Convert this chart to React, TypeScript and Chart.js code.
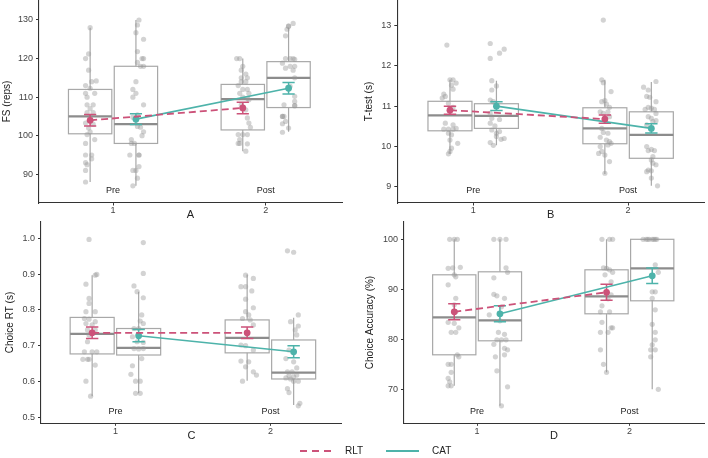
import React, { useEffect, useRef } from 'react';
import { Chart, registerables } from 'chart.js';
Chart.register(...registerables);

// ---------- shared categories ----------
const groupNames = ['RLT', 'CAT'];
const timeLabels = ['Pre', 'Post'];
const timeValues = [1, 2];
const xTickValues = [1, 2];

// every per-group array is ordered: RLT Pre, CAT Pre, RLT Post, CAT Post
// box stats: [lower whisker, Q1, median, Q3, upper whisker]

// ---------- A : FS (reps) ----------
const fsTicks = [90, 100, 110, 120, 130];
const fsBoxes = [
  [88, 100.5, 105, 112, 128],
  [87, 98, 103, 118, 130],
  [96, 101.5, 109.5, 113.3, 120],
  [101, 107.3, 115, 119.2, 128],
];
const fsMeans = [104.0, 104.3, 107.2, 112.3];
const fsErrors = [1.5, 1.4, 1.5, 1.5];
const fsPoints = [
  [[0, 128], [-0.03, 120], [-0.01, 121.2], [-0.01, 117], [0.01, 114], [0.04, 114.2], [-0.03, 113], [0, 112.3], [-0.03, 111], [0.03, 111], [-0.02, 110], [-0.02, 108], [0.02, 108], [0, 107], [-0.02, 106], [0.02, 106], [0, 105], [-0.03, 103.3], [0.02, 103], [-0.01, 102], [0, 101], [-0.02, 100.3], [0.03, 99], [-0.03, 98], [-0.03, 95], [0.01, 95], [0.01, 94], [-0.03, 93], [-0.02, 92.5], [-0.03, 91], [-0.03, 88]],
  [[0.02, 130], [0.01, 128.7], [0, 126.7], [0.05, 125], [0.01, 121.8], [0.04, 120], [0.05, 120], [0.01, 119], [0.03, 118], [0.05, 118], [0, 114], [-0.02, 112], [0, 111], [-0.02, 110], [0.05, 108], [0.01, 105.4], [-0.02, 104.8], [0.01, 102.4], [0.03, 102.2], [0.05, 101], [0.04, 100], [-0.03, 99], [-0.03, 98], [-0.01, 98], [-0.04, 95], [0.02, 95], [0.02, 95], [0.02, 92], [-0.02, 91], [0, 91], [0.01, 89], [-0.02, 87]],
  [[-0.04, 120], [-0.02, 120], [0, 118], [-0.01, 117], [0.02, 116], [-0.01, 115], [0.03, 115], [-0.01, 114], [0.02, 114], [-0.03, 113], [0, 112], [0.03, 112], [-0.02, 111], [0.04, 111], [0, 110], [0.03, 109.7], [0.04, 109.3], [-0.01, 108], [0.02, 106.7], [0.03, 104.6], [0.04, 103.3], [0.05, 102.2], [-0.03, 100.3], [0, 100.3], [0.03, 100.3], [-0.02, 99], [-0.03, 98], [-0.02, 98], [0.03, 97.9], [0.02, 96]],
  [[0.03, 129.1], [0, 128.4], [0, 128.4], [-0.01, 127.6], [-0.02, 125.9], [-0.02, 120], [0.01, 120], [0.03, 120], [0.04, 119.8], [-0.04, 118.8], [0.01, 118], [0.04, 118], [-0.02, 117.5], [0.03, 117], [0.04, 115], [0.01, 112.8], [0.04, 110.2], [0.04, 108.9], [-0.03, 108], [0.04, 107.8], [0.04, 107.8], [-0.03, 105], [-0.04, 105], [-0.04, 105], [-0.02, 103.7], [-0.04, 103.1], [0, 102], [-0.04, 100.9]],
];

// ---------- B : T-test (s) ----------
const ttTicks = [9, 10, 11, 12, 13];
const ttBoxes = [
  [9.82, 10.39, 10.77, 11.12, 11.65],
  [10.03, 10.45, 10.76, 11.06, 11.63],
  [9.32, 10.07, 10.45, 10.96, 11.65],
  [9.03, 9.71, 10.29, 10.86, 11.6],
];
const ttMeans = [10.9, 11.0, 10.68, 10.45];
const ttErrors = [0.1, 0.11, 0.1, 0.115];
const ttPoints = [
  [[-0.02, 12.51], [0, 11.65], [0.02, 11.65], [0.04, 11.57], [0.02, 11.42], [0.01, 11.52], [-0.04, 11.3], [-0.03, 11.24], [-0.05, 11.2], [-0.01, 11.07], [0.02, 10.97], [-0.03, 10.58], [0.02, 10.54], [-0.04, 10.43], [-0.01, 10.43], [0.02, 10.43], [0.04, 10.45], [-0.01, 10.33], [0.01, 10.29], [0, 10.16], [0.05, 10.08], [0.01, 9.96], [0, 9.88], [-0.01, 9.82]],
  [[-0.04, 12.55], [0.02, 12.31], [0.05, 12.41], [-0.04, 12.18], [-0.03, 11.63], [0, 11.5], [-0.03, 11.4], [-0.04, 11.15], [-0.02, 11.11], [0, 11.03], [-0.04, 10.82], [-0.03, 10.7], [0.02, 10.67], [-0.04, 10.58], [-0.01, 10.51], [-0.03, 10.41], [0.02, 10.37], [0, 10.33], [0, 10.25], [0.03, 10.18], [0.05, 10.2], [-0.04, 10.1], [-0.02, 10.03]],
  [[-0.01, 13.13], [-0.02, 11.65], [-0.01, 11.58], [0.04, 11.36], [0, 11.14], [-0.02, 11.11], [0.01, 11.05], [0.03, 10.97], [-0.03, 10.86], [0.02, 10.86], [-0.01, 10.82], [0.03, 10.74], [0, 10.66], [-0.02, 10.45], [-0.01, 10.35], [0.02, 10.33], [-0.03, 10.23], [0.01, 10.16], [0.03, 10.12], [0.04, 10.08], [0.02, 10.04], [-0.03, 10.0], [-0.02, 9.88], [-0.04, 9.83], [0, 9.79], [0.03, 9.63], [0, 9.34]],
  [[-0.05, 11.47], [0.03, 11.61], [-0.02, 11.4], [-0.03, 11.24], [-0.01, 11.22], [0.03, 11.11], [-0.02, 10.97], [-0.04, 10.92], [0, 10.95], [0.02, 10.92], [0.03, 10.82], [-0.02, 10.74], [0, 10.7], [0.01, 10.62], [0.03, 10.64], [-0.03, 10.54], [-0.03, 10.0], [0, 9.93], [-0.02, 9.9], [0.02, 9.9], [0.01, 9.75], [0, 9.67], [0.01, 9.59], [0.03, 9.55], [-0.02, 9.42], [0, 9.4], [-0.03, 9.38], [0, 9.22], [0.04, 9.03]],
];

// ---------- C : Choice RT (s) ----------
const rtTicks = [0.5, 0.6, 0.7, 0.8, 0.9, 1.0];
const rtBoxes = [
  [0.559, 0.677, 0.733, 0.779, 0.897],
  [0.567, 0.674, 0.694, 0.748, 0.851],
  [0.602, 0.68, 0.722, 0.772, 0.899],
  [0.534, 0.607, 0.625, 0.716, 0.778],
];
const rtMeans = [0.736, 0.728, 0.736, 0.683];
const rtErrors = [0.016, 0.017, 0.016, 0.017];
const rtPoints = [
  [[-0.02, 0.997], [0.02, 0.897], [0.03, 0.899], [-0.04, 0.872], [-0.02, 0.832], [-0.02, 0.818], [-0.04, 0.795], [0.02, 0.795], [-0.05, 0.776], [-0.02, 0.774], [0.02, 0.767], [-0.04, 0.762], [0, 0.758], [-0.03, 0.744], [0.02, 0.744], [-0.02, 0.73], [-0.03, 0.711], [-0.05, 0.683], [0, 0.683], [0.03, 0.683], [-0.03, 0.662], [-0.06, 0.662], [-0.02, 0.662], [0.02, 0.646], [-0.04, 0.601], [-0.01, 0.559]],
  [[0.03, 0.988], [0.03, 0.902], [-0.03, 0.867], [-0.01, 0.851], [0.03, 0.834], [0.02, 0.786], [0.01, 0.769], [0.03, 0.762], [-0.03, 0.748], [0, 0.748], [-0.04, 0.725], [-0.01, 0.711], [0.03, 0.709], [-0.03, 0.692], [0, 0.691], [0.03, 0.692], [0.02, 0.664], [-0.04, 0.644], [-0.05, 0.62], [-0.02, 0.601], [0.01, 0.601], [-0.02, 0.567], [0.01, 0.567]],
  [[-0.01, 0.897], [0.04, 0.888], [-0.04, 0.865], [-0.01, 0.865], [0.03, 0.853], [-0.01, 0.83], [0.04, 0.806], [-0.01, 0.795], [0.01, 0.786], [-0.03, 0.776], [0.02, 0.772], [0.04, 0.758], [0, 0.734], [-0.04, 0.702], [-0.01, 0.7], [0.04, 0.688], [-0.04, 0.657], [0.01, 0.655], [-0.01, 0.641], [0.04, 0.627], [0.06, 0.618], [-0.03, 0.601]],
  [[-0.04, 0.965], [0, 0.961], [0.03, 0.786], [-0.02, 0.767], [0.03, 0.755], [0.01, 0.744], [0.02, 0.73], [-0.03, 0.688], [-0.05, 0.664], [0, 0.655], [0.02, 0.638], [-0.04, 0.627], [-0.01, 0.627], [-0.03, 0.616], [0, 0.613], [0.02, 0.618], [-0.05, 0.61], [-0.02, 0.607], [0, 0.601], [0.03, 0.601], [-0.04, 0.58], [-0.03, 0.569], [0.04, 0.539], [0.03, 0.532]],
];

// ---------- D : Choice Accuracy (%) ----------
const accTicks = [70, 80, 90, 100];
const accBoxes = [
  [70.7, 76.9, 84.4, 92.9, 100],
  [66.7, 79.7, 83.8, 93.5, 100],
  [73.4, 85.1, 88.6, 93.9, 100],
  [70, 87.7, 94.2, 100, 100],
];
const accMeans = [85.5, 85.1, 89.4, 92.7];
const accErrors = [1.6, 1.6, 1.6, 1.55];
const accPoints = [
  [[-0.03, 100], [0, 100], [0.02, 100], [-0.04, 94.2], [-0.01, 94.3], [0.04, 94.4], [0, 92.9], [0.01, 92.5], [-0.04, 90.9], [0.01, 88.2], [0, 86.9], [0.01, 85.5], [-0.04, 83.4], [0, 83.2], [0.03, 82.3], [-0.02, 81.4], [0.01, 81.4], [0.02, 76.9], [0.03, 76.5], [-0.04, 75], [-0.02, 75], [-0.02, 73.4], [-0.04, 72.2], [-0.03, 71.5], [-0.04, 70.7], [-0.02, 70.7]],
  [[-0.04, 100], [0, 100], [0.04, 100], [0.04, 94.3], [-0.04, 92.3], [0.05, 93.4], [-0.04, 89], [-0.02, 88.7], [0.03, 88.2], [0.01, 86.5], [-0.07, 84.9], [0, 83.7], [-0.01, 81.4], [0.03, 81], [-0.02, 79.9], [0.01, 79.9], [0.04, 79.9], [-0.04, 79], [0.03, 78.2], [0.05, 77.9], [-0.03, 76.5], [0.03, 76.9], [-0.02, 73.7], [0.05, 70.5], [0.01, 66.7]],
  [[-0.03, 100], [0.02, 100], [0.04, 100], [-0.02, 94.3], [0, 94.2], [0.02, 93.9], [0.04, 93.4], [-0.01, 92.9], [0.03, 91.5], [0.03, 88.9], [0.01, 88.1], [-0.03, 86.7], [-0.04, 85.5], [0.02, 85.5], [-0.03, 83.4], [0.03, 82.3], [0.04, 82.3], [-0.04, 81.4], [0.01, 81.4], [-0.04, 77.9], [-0.02, 75], [0, 73.4]],
  [[-0.06, 100], [-0.04, 100], [-0.03, 100], [-0.02, 100], [0, 100], [0.01, 100], [0.02, 100], [0.03, 100], [0.02, 94.9], [0.04, 93.4], [0, 89.5], [0.02, 89.5], [0, 88.2], [0.02, 85.9], [0, 83], [0.02, 81.4], [0.02, 79.9], [0, 78.9], [-0.01, 77.9], [0.02, 77.9], [-0.01, 76.5], [0.04, 70]],
];

// ---------- styles / layout ----------
const FONT = "'Liberation Sans', Arial, sans-serif";
const RLT_COLOR = '#cc5279';
const CAT_COLOR = '#4db3aa';
const groupColors = [RLT_COLOR, CAT_COLOR];
const DODGE = 0.15;
const BOX_HALF = 0.142;
const CAP_HALF = 0.04;
const OFF = 20;
const X_AXIS_H = 19;

const panels = [
  { name: 'A', yTitle: 'FS (reps)', ticks: fsTicks, boxes: fsBoxes, means: fsMeans, errors: fsErrors, points: fsPoints,
    yMin: 82.56, yMax: 135.18, xMin: 0.515, xMax: 2.5, decimals: 0,
    frame: { padLeft: 0, axisX: 39, top: 0, right: 342, bottom: 203 } },
  { name: 'B', yTitle: 'T-test (s)', ticks: ttTicks, boxes: ttBoxes, means: ttMeans, errors: ttErrors, points: ttPoints,
    yMin: 8.604, yMax: 13.626, xMin: 0.51, xMax: 2.49, decimals: 0,
    frame: { padLeft: 362, axisX: 397.3, top: 0, right: 704, bottom: 203 } },
  { name: 'C', yTitle: 'Choice RT (s)', ticks: rtTicks, boxes: rtBoxes, means: rtMeans, errors: rtErrors, points: rtPoints,
    yMin: 0.4832, yMax: 1.0464, xMin: 0.52, xMax: 2.46, decimals: 1,
    frame: { padLeft: 3, axisX: 41, top: 221.7, right: 341.7, bottom: 423.3 } },
  { name: 'D', yTitle: 'Choice Accuracy (%)', ticks: accTicks, boxes: accBoxes, means: accMeans, errors: accErrors, points: accPoints,
    yMin: 63.2, yMax: 103.52, xMin: 0.52, xMax: 2.49, decimals: 0,
    frame: { padLeft: 362.7, axisX: 404, top: 221.7, right: 705.7, bottom: 423.3 } },
];

function groupCenter(gi: number) {
  return timeValues[gi >> 1] + (gi % 2 === 0 ? -DODGE : DODGE);
}

function makeDecor(p: any) {
  return {
    id: 'decor' + p.name,
    beforeDatasetsDraw(chart: any) {
      const { ctx, chartArea } = chart;
      const xs = chart.scales.x;
      const ys = chart.scales.y;
      ctx.save();
      p.boxes.forEach((b: number[], gi: number) => {
        const c = groupCenter(gi);
        const x0 = xs.getPixelForValue(c - BOX_HALF);
        const x1 = xs.getPixelForValue(c + BOX_HALF);
        const xc = xs.getPixelForValue(c);
        const [lo, q1, med, q3, hi] = b.map((v) => ys.getPixelForValue(v));
        ctx.strokeStyle = '#a8a8a8';
        ctx.lineWidth = 1.2;
        ctx.beginPath();
        ctx.moveTo(xc, lo); ctx.lineTo(xc, q1);
        ctx.moveTo(xc, q3); ctx.lineTo(xc, hi);
        ctx.stroke();
        ctx.strokeRect(x0, q3, x1 - x0, q1 - q3);
        ctx.strokeStyle = '#8c8c8c';
        ctx.lineWidth = 2.2;
        ctx.beginPath();
        ctx.moveTo(x0, med); ctx.lineTo(x1, med);
        ctx.stroke();
      });
      ctx.fillStyle = '#222';
      ctx.font = `9px ${FONT}`;
      ctx.textAlign = 'center';
      ctx.textBaseline = 'middle';
      timeLabels.forEach((t, i) => {
        ctx.fillText(t, xs.getPixelForValue(timeValues[i]), chartArea.bottom - 12);
      });
      ctx.restore();
    },
    afterDatasetDraw(chart: any, args: any) {
      if (args.index !== 0) return;
      const { ctx } = chart;
      const xs = chart.scales.x;
      const ys = chart.scales.y;
      ctx.save();
      p.means.forEach((m: number, gi: number) => {
        const c = groupCenter(gi);
        const e = p.errors[gi];
        const xc = xs.getPixelForValue(c);
        const xa = xs.getPixelForValue(c - CAP_HALF);
        const xb = xs.getPixelForValue(c + CAP_HALF);
        const yt = ys.getPixelForValue(m + e);
        const yb = ys.getPixelForValue(m - e);
        ctx.strokeStyle = groupColors[gi % 2];
        ctx.lineWidth = 1.5;
        ctx.beginPath();
        ctx.moveTo(xc, yt); ctx.lineTo(xc, yb);
        ctx.moveTo(xa, yt); ctx.lineTo(xb, yt);
        ctx.moveTo(xa, yb); ctx.lineTo(xb, yb);
        ctx.stroke();
      });
      ctx.restore();
    },
  };
}

function Panel({ p }: { p: any }) {
  const ref = useRef<HTMLCanvasElement>(null);
  useEffect(() => {
    const jitter: any[] = [];
    p.points.forEach((grp: number[][], gi: number) => {
      const c = groupCenter(gi);
      grp.forEach(([dx, v]) => jitter.push({ x: c + dx, y: v }));
    });
    const meanLine = (k: number) => [0, 1].map((ti) => ({ x: groupCenter(ti * 2 + k), y: p.means[ti * 2 + k] }));
    const f = p.frame;
    const tickFont = { family: FONT, size: 9 };
    const chart = new Chart(ref.current as HTMLCanvasElement, {
      type: 'scatter',
      data: {
        datasets: [
          { type: 'scatter', label: 'obs', data: jitter, pointRadius: 2.6, pointHoverRadius: 2.6,
            pointBackgroundColor: 'rgba(150,150,150,0.42)', pointBorderWidth: 0, order: 3 } as any,
          { type: 'line', label: groupNames[0], data: meanLine(0), borderColor: RLT_COLOR, borderDash: [7, 4],
            borderWidth: 1.8, pointRadius: 3.4, pointBackgroundColor: RLT_COLOR, pointBorderWidth: 0, order: 1 } as any,
          { type: 'line', label: groupNames[1], data: meanLine(1), borderColor: CAT_COLOR,
            borderWidth: 1.6, pointRadius: 3.4, pointBackgroundColor: CAT_COLOR, pointBorderWidth: 0, order: 1 } as any,
        ],
      },
      options: {
        responsive: false,
        animation: false,
        devicePixelRatio: 1,
        events: [],
        layout: {
          padding: { left: f.padLeft, top: f.top + OFF, right: 708 - f.right, bottom: 458 - f.bottom - X_AXIS_H },
        },
        plugins: { legend: { display: false }, tooltip: { enabled: false } },
        scales: {
          x: {
            type: 'linear', min: p.xMin, max: p.xMax,
            afterFit: (s: any) => { s.height = X_AXIS_H; },
            afterBuildTicks: (s: any) => { s.ticks = xTickValues.map((v) => ({ value: v })); },
            ticks: { font: tickFont, color: '#444', padding: 0, callback: (v: any) => String(v) },
            grid: { display: true, drawOnChartArea: false, drawTicks: true, tickLength: 2.5, color: '#333' },
            border: { display: true, color: '#333', width: 1.1 },
            title: { display: true, text: p.name, font: { family: FONT, size: 11 }, color: '#222', padding: { top: 0, bottom: 0 } },
          },
          y: {
            type: 'linear', min: p.yMin, max: p.yMax,
            afterFit: (s: any) => { s.width = f.axisX - f.padLeft; },
            afterBuildTicks: (s: any) => { s.ticks = p.ticks.map((v: number) => ({ value: v })); },
            ticks: { font: tickFont, color: '#444', padding: 3, callback: (v: any) => Number(v).toFixed(p.decimals) },
            grid: { display: true, drawOnChartArea: false, drawTicks: true, tickLength: 3, color: '#333' },
            border: { display: true, color: '#333', width: 1.1 },
            title: { display: true, text: p.yTitle, font: { family: FONT, size: 10 }, color: '#222', padding: { top: 1.5, bottom: 0 } },
          },
        },
      } as any,
      plugins: [makeDecor(p)],
    });
    return () => chart.destroy();
  }, []);
  return (
    <canvas ref={ref} width={708} height={458 + OFF}
      style={{ position: 'absolute', left: 0, top: -OFF, width: 708, height: 458 + OFF }} />
  );
}

export default function App() {
  return (
    <div style={{ position: 'absolute', left: 0, top: 0, width: 708, height: 458, background: '#fff', overflow: 'hidden' }}>
      {panels.map((p) => <Panel key={p.name} p={p} />)}
      <svg width={708} height={20} style={{ position: 'absolute', left: 0, top: 441 }}>
        <line x1={300} y1={10} x2={334} y2={10} stroke={RLT_COLOR} strokeWidth={2} strokeDasharray="7 5" />
        <line x1={386} y1={10} x2={419} y2={10} stroke={CAT_COLOR} strokeWidth={2} />
      </svg>
      <span style={{ position: 'absolute', left: 345, top: 444, fontFamily: FONT, fontSize: 10, color: '#222', lineHeight: '14px' }}>{groupNames[0]}</span>
      <span style={{ position: 'absolute', left: 432, top: 444, fontFamily: FONT, fontSize: 10, color: '#222', lineHeight: '14px' }}>{groupNames[1]}</span>
    </div>
  );
}
